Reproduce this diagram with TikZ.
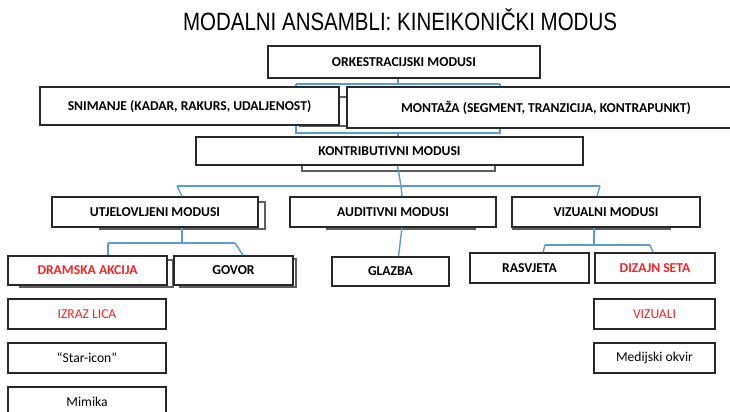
\documentclass[tikz,border=0pt]{standalone}
\usepackage{fontspec}
\setmainfont{Carlito}
\newfontfamily\titlefont{Liberation Sans}
\usetikzlibrary{calc}
\definecolor{linkblue}{RGB}{91,155,213}
\definecolor{boxgray}{RGB}{40,40,40}
\definecolor{akcent}{RGB}{250,35,35}

\begin{document}
\begin{tikzpicture}[x=0.5pt, y=-0.5pt,
            modbox/.style={draw=boxgray, line width=0.8pt, fill=white, inner sep=0pt,
                font=\fontsize{6.8}{8}\selectfont\bfseries},
            plainbox/.style={modbox, font=\fontsize{6.8}{8}\selectfont},
            backbox/.style={draw=boxgray!75, line width=0.6pt, fill=white},
            link/.style={draw=linkblue, line width=0.7pt}]
            \useasboundingbox (0, 0) rectangle (730, 412);

            \node (naslov) at (400, 20) {\titlefont\fontsize{12.5}{14}\selectfont\scalebox{0.82}[1]{MODALNI ANSAMBLI: KINEIKONIČKI MODUS}};

            \draw[backbox] (300, 97) rectangle (400, 126);
            \draw[backbox] (302, 140) rectangle (495, 171);
            \draw[backbox] (100, 202) rectangle (265, 229);
            \draw[backbox] (327, 200) rectangle (475, 229);
            \draw[backbox] (513, 200) rectangle (670, 229);
            \draw[backbox] (20, 260) rectangle (173, 287);
            \draw[backbox] (180, 259) rectangle (296, 287);

            \node[modbox, minimum width=136pt, minimum height=16pt] (orkestr) at (404, 62) {ORKESTRACIJSKI MODUSI};
            \node[modbox, minimum width=149.5pt, minimum height=19pt] (snimanje) at (189.5, 106) {SNIMANJE (KADAR, RAKURS, UDALJENOST)};
            \node[modbox, minimum width=199pt, minimum height=20.5pt] (montaza) at (546, 107.5) {MONTAŽA (SEGMENT, TRANZICIJA, KONTRAPUNKT)};
            \node[modbox, minimum width=193.5pt, minimum height=14pt] (kontrib) at (389.5, 151) {KONTRIBUTIVNI MODUSI};

            \node[modbox, minimum width=103pt, minimum height=15pt] (utjelov) at (155, 212) {UTJELOVLJENI MODUSI};
            \node[modbox, minimum width=103pt, minimum height=15pt] (auditiv) at (393, 212) {AUDITIVNI MODUSI};
            \node[modbox, minimum width=94pt, minimum height=15pt] (vizual) at (606, 212) {VIZUALNI MODUSI};

            \node[modbox, text=akcent, minimum width=79.5pt, minimum height=14.5pt] (dramska) at (87.5, 270.5) {DRAMSKA AKCIJA};
            \node[modbox, minimum width=59.5pt, minimum height=14.5pt] (govor) at (233.5, 270.5) {GOVOR};
            \node[modbox, minimum width=58.5pt, minimum height=14.5pt] (glazba) at (390.5, 271.5) {GLAZBA};
            \node[modbox, minimum width=59.5pt, minimum height=15pt] (rasvjeta) at (529.5, 268) {RASVJETA};
            \node[modbox, text=akcent, minimum width=60pt, minimum height=15pt] (dizajn) at (655, 268) {DIZAJN SETA};

            \node[plainbox, text=akcent, minimum width=79pt, minimum height=15pt] (izraz) at (87, 314) {IZRAZ LICA};
            \node[plainbox, minimum width=79pt, minimum height=15pt] (star) at (87, 358) {“Star-icon”};
            \node[plainbox, minimum width=79pt, minimum height=15pt] (mimika) at (87, 402) {Mimika};
            \node[plainbox, text=akcent, minimum width=60.5pt, minimum height=15pt] (vizuali) at (654.5, 314) {VIZUALI};
            \node[plainbox, minimum width=60.5pt, minimum height=15pt] (medij) at (654.5, 358) {Medijski okvir};

            \coordinate (oL) at (296, 84);
            \coordinate (oM) at (398, 84);
            \coordinate (oR) at (500, 84);
            \coordinate (bL) at (296, 133);
            \coordinate (bM) at (398, 133);
            \coordinate (bR) at (500, 133);
            \draw[link] (orkestr.south -| oM) -- (oM);
            \draw[link] (oL) -- (oR);
            \draw[link] (oL) -- (snimanje.north -| oL);
            \draw[link] (oR) -- (montaza.north -| oR);
            \draw[link] (snimanje.south -| bL) -- (bL) -- (bR) -- (montaza.south -| bR);
            \draw[link] (bM) -- (kontrib.north -| bM);

            \coordinate (kL) at (177, 186);
            \coordinate (kM) at (401, 186);
            \coordinate (kR) at (600, 186);
            \draw[link] ($(kontrib.south)+(8, 0)$) -- (kM);
            \draw[link] (kL) -- (kR);
            \draw[link] (kL) -- ($(utjelov.north)+(27, 0)$);
            \draw[link] (kM) -- ($(auditiv.north)+(9, 0)$);
            \draw[link] (kR) -- ($(vizual.north)+(-9, 0)$);

            \draw[link] ($(auditiv.south)+(9, 0)$) -- ($(glazba.north)+(8, 0)$);

            \coordinate (uL) at (108, 243);
            \coordinate (uM) at (182, 243);
            \coordinate (uR) at (235, 243);
            \draw[link] ($(utjelov.south)+(27, 0)$) -- (uM);
            \draw[link] (uL) -- (uR);
            \draw[link] (uL) -- ($(dramska.north)+(20.5, 0)$);
            \draw[link] (uR) -- ($(govor.north)+(9.5, 0)$);

            \coordinate (vL) at (545, 245);
            \coordinate (vM) at (594, 245);
            \coordinate (vR) at (650, 245);
            \draw[link] ($(vizual.south)+(-12, 0)$) -- (vM);
            \draw[link] (vL) -- (vR);
            \draw[link] (vL) -- ($(rasvjeta.north)+(13.5, 0)$);
            \draw[link] (vR) -- ($(dizajn.north)+(-2, 0)$);

        \end{tikzpicture}
\end{document}
